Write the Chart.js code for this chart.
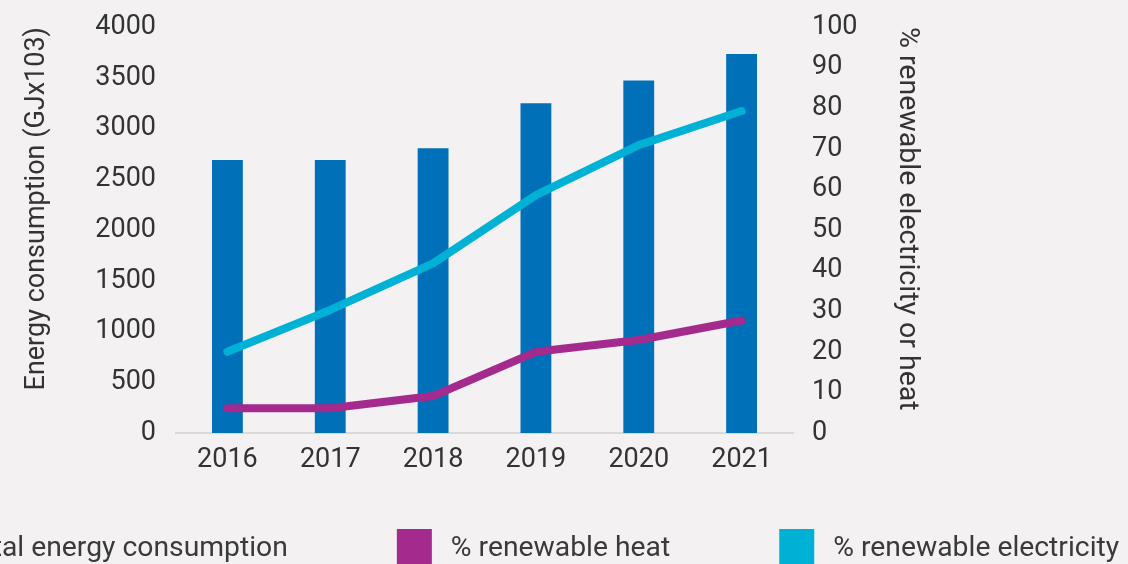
<!DOCTYPE html>
<html>
<head>
<meta charset="utf-8">
<script src="https://cdn.jsdelivr.net/npm/chart.js@4.4.1/dist/chart.umd.min.js"></script>
<style>
  html, body { margin: 0; padding: 0; background: #f3f1f2; overflow: hidden; }
  canvas { display: block; }
</style>
</head>
<body>
<canvas id="chart" width="1128" height="564"></canvas>
<script>
// ---- data ----
const categories = ['2016', '2017', '2018', '2019', '2020', '2021'];
const totalEnergy = [2690, 2690, 2805, 3250, 3472, 3735];          // GJx103 (left axis)
const renewableHeat = [6.1, 6.1, 9.1, 20.0, 22.9, 27.7];           // % (right axis)
const renewableElectricity = [20.0, 30.3, 41.8, 58.6, 70.9, 79.3]; // % (right axis)
const seriesNames = ['Total energy consumption', '% renewable heat', '% renewable electricity'];
const leftAxisTitle = 'Energy consumption (GJx103)';
const rightAxisTitle = '% renewable electricity or heat';

const COLORS = { bar: '#0071b9', heat: '#a52a8e', elec: '#00b1d6', text: '#333333', axis: '#d9d9d9' };

Chart.defaults.font.family = 'Roboto, "Liberation Sans", sans-serif';
Chart.defaults.color = COLORS.text;

// simple bottom legend drawn from the datasets
const bottomLegend = {
  id: 'bottomLegend',
  afterDraw(chart, args, opts) {
    const ctx = chart.ctx;
    ctx.save();
    ctx.font = opts.fontSize + 'px ' + Chart.defaults.font.family;
    ctx.textBaseline = 'alphabetic';
    ctx.textAlign = 'left';
    let x = opts.startX;
    chart.data.datasets.forEach((ds) => {
      ctx.fillStyle = ds.legendColor;
      ctx.fillRect(x, opts.boxTop, opts.boxSize, opts.boxSize);
      const tx = x + opts.boxSize + opts.boxGap;
      ctx.fillStyle = opts.color;
      ctx.fillText(ds.label, tx, opts.baseline);
      x = tx + ctx.measureText(ds.label).width + opts.itemGap;
    });
    ctx.restore();
  }
};

const plainNumber = (v) => String(v);

new Chart(document.getElementById('chart'), {
  type: 'bar',
  data: {
    labels: categories,
    datasets: [
      {
        type: 'bar', label: seriesNames[0], data: totalEnergy, yAxisID: 'y',
        backgroundColor: COLORS.bar, legendColor: COLORS.bar,
        barPercentage: 0.3, categoryPercentage: 1.0, order: 3
      },
      {
        type: 'line', label: seriesNames[1], data: renewableHeat, yAxisID: 'y1',
        borderColor: COLORS.heat, legendColor: COLORS.heat, borderWidth: 8,
        pointRadius: 0, borderCapStyle: 'round', borderJoinStyle: 'round',
        tension: 0, fill: false, order: 2
      },
      {
        type: 'line', label: seriesNames[2], data: renewableElectricity, yAxisID: 'y1',
        borderColor: COLORS.elec, legendColor: COLORS.elec, borderWidth: 8,
        pointRadius: 0, borderCapStyle: 'round', borderJoinStyle: 'round',
        tension: 0, fill: false, order: 1
      }
    ]
  },
  options: {
    responsive: false,
    animation: false,
    layout: { padding: { left: 0, right: 195, top: 27, bottom: 71 } },
    plugins: {
      legend: { display: false },
      tooltip: { enabled: false },
      bottomLegend: {
        startX: -93, boxTop: 529, boxSize: 35, boxGap: 19, itemGap: 109,
        baseline: 556, fontSize: 28.3, color: '#3a3a3a'
      }
    },
    scales: {
      x: {
        offset: true,
        grid: { display: false, drawTicks: false },
        border: { display: true, color: COLORS.axis, width: 2 },
        ticks: { font: { size: 27 }, color: COLORS.text, padding: 11 },
        afterFit(s) { s.height = 60; }
      },
      y: {
        position: 'left', min: 0, max: 4000,
        grid: { display: false, drawTicks: false },
        border: { display: false },
        ticks: { stepSize: 500, font: { size: 27 }, color: COLORS.text, padding: 20, callback: plainNumber },
        title: {
          display: true, text: leftAxisTitle, align: 'end',
          font: { size: 27 }, color: COLORS.text, padding: { top: 21, bottom: 0 }
        },
        afterFit(s) { s.width = 176; s.paddingTop = 0; s.paddingBottom = 0; }
      },
      y1: {
        position: 'right', min: 0, max: 100,
        grid: { display: false, drawTicks: false },
        border: { display: false },
        ticks: { stepSize: 10, font: { size: 27 }, color: COLORS.text, padding: 19, callback: plainNumber },
        title: {
          display: true, text: rightAxisTitle, align: 'end',
          font: { size: 28.5 }, color: COLORS.text, padding: { top: 9, bottom: 0 }
        },
        afterFit(s) { s.width = 140; s.paddingTop = 0; s.paddingBottom = 0; }
      }
    }
  },
  plugins: [bottomLegend]
});
</script>
</body>
</html>
